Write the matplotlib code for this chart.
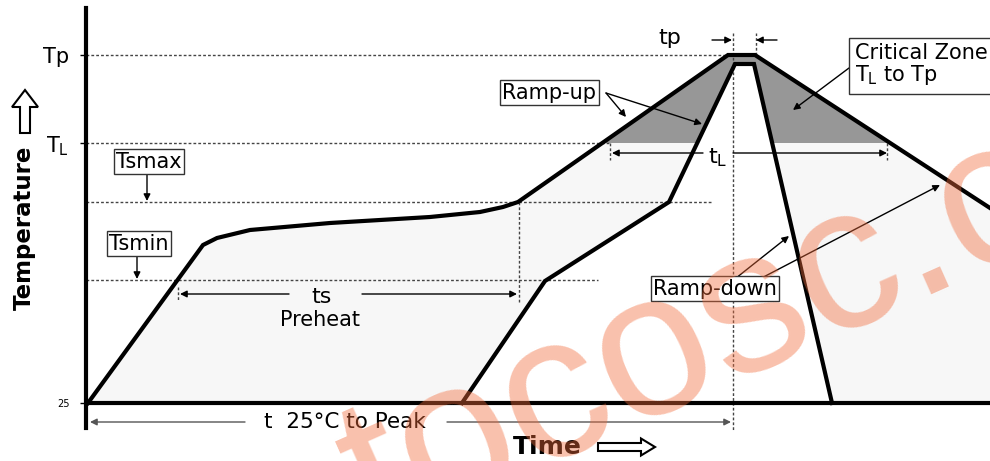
import matplotlib.pyplot as plt
from matplotlib.patches import FancyArrow, Rectangle

# time / temperature in drawing units (temperature 0 = 25 C baseline)
upper_t = [2, 117, 131, 164, 244, 344, 394, 417, 432, 642, 669, 904]
upper_T = [0, 158, 165, 173, 180, 186, 191, 196, 201, 348, 348, 195]
lower_t = [376, 459, 583, 649, 668, 746]
lower_T = [0, 122, 201, 339, 339, 0]

T25, Tsmin, Tsmax, TL, Tp = 0, 123, 201, 260, 348
level_ticks = [T25, TL, Tp]
level_labels = ['25', '$\\mathregular{T_L}$', 'Tp']

fig = plt.figure(figsize=(9.9, 4.61), dpi=100)
ax = fig.add_axes([86 / 990, 33 / 461, 904 / 990, 420 / 461])
ax.set_xlim(0, 904)
ax.set_ylim(-25, 395)
for s in ['top', 'right', 'bottom']:
    ax.spines[s].set_visible(False)
ax.spines['left'].set_linewidth(3)
ax.set_xticks([])
ax.set_yticks(level_ticks)
ax.set_yticklabels(level_labels)
ax.tick_params(axis='y', length=4, width=1, pad=8, labelsize=15)
ax.get_yticklabels()[0].set_fontsize(7)

# shaded area between the two profiles
poly_t = upper_t + [904] + [904] + lower_t[::-1]
poly_T = upper_T + [0] + [0] + lower_T[::-1]
ax.fill(poly_t, poly_T, color='#f7f7f7', lw=0, zorder=1)
crit = ax.fill(poly_t, poly_T, color='#979797', lw=0, zorder=1.5)[0]
clip = Rectangle((0, TL), 1000, 200, transform=ax.transData)
crit.set_clip_path(clip)

dot = dict(color='#444444', lw=1, linestyle=(0, (2, 1.5)), zorder=2)
ax.plot([0, 642], [Tp, Tp], **dot)
ax.plot([0, 524], [TL, TL], **dot)
ax.plot([0, 626], [Tsmax, Tsmax], **dot)
ax.plot([0, 512], [Tsmin, Tsmin], **dot)
ax.plot([433, 433], [Tsmax, 100], **dot)
ax.plot([647, 647], [370, -27], clip_on=False, **dot)
ax.plot([670, 670], [Tp, 370], **dot)
ax.plot([524, 524], [TL, 243], **dot)
ax.plot([801, 801], [TL, 243], **dot)
ax.plot([92, 92], [116, 103], **dot)

ax.axhline(T25, color='black', lw=3, zorder=3)
ax.plot(upper_t, upper_T, color='black', lw=3, zorder=3, solid_joinstyle='miter')
ax.plot(lower_t, lower_T, color='black', lw=3, zorder=3, solid_joinstyle='miter')


def arrow(x0, y0, x1, y1, color='black'):
    ax.annotate('', xy=(x1, y1), xytext=(x0, y0), annotation_clip=False,
                arrowprops=dict(arrowstyle='-|>', color=color, lw=1,
                                mutation_scale=10, shrinkA=0, shrinkB=0),
                zorder=4)


arrow(626, 363, 646, 363)
arrow(691, 363, 670, 363)
arrow(203, 109, 94, 109)
arrow(276, 109, 431, 109)
arrow(617, 250, 526, 250)
arrow(647, 250, 801, 250)
arrow(159, -19, 4, -19, color='#555555')
arrow(361, -19, 645, -19, color='#555555')
arrow(61, 228, 61, 202)
arrow(51, 146, 51, 124)
arrow(520, 310, 540, 286)
arrow(520, 310, 616, 279)
arrow(645, 121, 703, 167)
arrow(666, 120, 854, 218)
arrow(763, 335, 707, 293)

box = dict(boxstyle='square,pad=0.12', fc='white', ec='#333333', lw=1)
fs = 15
ax.text(63, 241, 'Tsmax', fontsize=fs, ha='center', va='center', bbox=box, zorder=5)
ax.text(53, 159, 'Tsmin', fontsize=fs, ha='center', va='center', bbox=box, zorder=5)
ax.text(463, 310, 'Ramp-up', fontsize=fs, ha='center', va='center', bbox=box, zorder=5)
ax.text(629, 114, 'Ramp-down', fontsize=fs, ha='center', va='center', bbox=box, zorder=5)
ax.text(769, 338, 'Critical Zone\n$\\mathregular{T_L}$ to Tp', fontsize=fs, ha='left',
        va='center', linespacing=1.05, zorder=5,
        bbox=dict(boxstyle='square,pad=0.3', fc='white', ec='#333333', lw=1))

ax.text(236, 106, 'ts', fontsize=16, ha='center', va='center')
ax.text(234, 83, 'Preheat', fontsize=fs, ha='center', va='center')
ax.text(632, 245, '$\\mathregular{t_L}$', fontsize=16, ha='center', va='center')
ax.text(584, 365, 'tp', fontsize=16, ha='center', va='center')
ax.text(259, -19, 't  25°C to Peak', fontsize=15.5, ha='center', va='center')

ax.text(-62, 175, 'Temperature', fontsize=16.5, fontweight='bold', rotation=90,
        ha='center', va='center')
ax.add_patch(FancyArrow(-61, 270, 0, 43, width=10, head_width=26, head_length=17,
                        fc='white', ec='black', lw=1.5, clip_on=False,
                        length_includes_head=True))
ax.text(461, -44, 'Time', fontsize=18, fontweight='bold', ha='center', va='center')
ax.add_patch(FancyArrow(512, -44, 57, 0, width=8, head_width=17, head_length=14,
                        fc='white', ec='black', lw=1.5, clip_on=False,
                        length_includes_head=True))

# watermark
ax.text(290, -137, 'tocosc.com', fontsize=147, family='Liberation Sans',
        color='#f26b3a', alpha=0.42, rotation=24, rotation_mode='anchor',
        ha='left', va='baseline', zorder=10)

fig.savefig('out.png', dpi=100)
